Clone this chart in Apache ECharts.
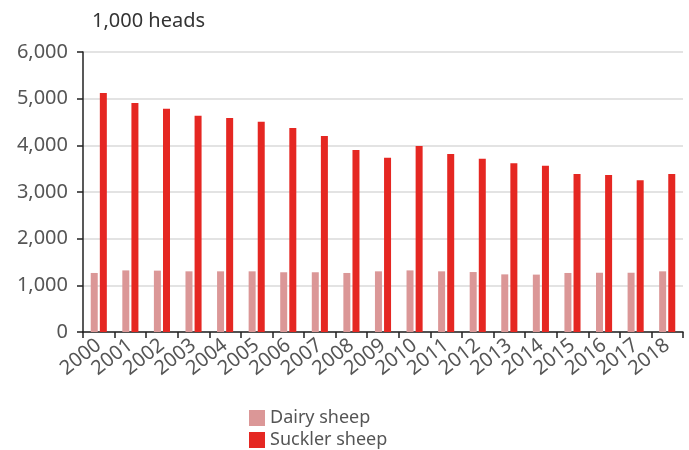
<!DOCTYPE html>
<html><head><meta charset="utf-8">
<script src="https://cdn.jsdelivr.net/npm/echarts@6/dist/echarts.min.js"></script>
<style>html,body{margin:0;padding:0;background:#fff}#c{width:689px;height:450px}</style>
</head><body><div id="c"></div>
<script>
var years = ['2000','2001','2002','2003','2004','2005','2006','2007','2008','2009','2010','2011','2012','2013','2014','2015','2016','2017','2018'];
var dairySheep = [1265,1320,1315,1300,1300,1300,1280,1280,1265,1300,1320,1300,1285,1235,1230,1265,1270,1270,1300];
var sucklerSheep = [5120,4905,4785,4635,4585,4505,4370,4200,3900,3735,3985,3815,3715,3615,3565,3385,3365,3250,3385];
var yTicks = [0,1000,2000,3000,4000,5000,6000];
var font = 'Noto Sans';
var legendText = {fontFamily:font,fontSize:18,color:'#555'};
var chart = echarts.init(document.getElementById('c'));
chart.setOption({
  animation:false,
  title:{text:'1,000 heads',left:87,top:6,textStyle:{fontFamily:font,fontSize:20,fontWeight:'normal',color:'#333'}},
  grid:{left:83,right:6,top:52,bottom:118,containLabel:false},
  legend:[
    {left:244,top:404,itemWidth:16,itemHeight:16,icon:'rect',itemGap:6,textStyle:legendText,data:['Dairy sheep']},
    {left:244,top:426,itemWidth:16,itemHeight:16,icon:'rect',itemGap:6,textStyle:legendText,data:['Suckler sheep']}
  ],
  xAxis:{type:'category',data:years,
    axisLine:{lineStyle:{color:'#222',width:1.5}},
    axisTick:{show:true,length:6,lineStyle:{color:'#222',width:1.5}},
    axisLabel:{interval:0,rotate:38,margin:11,fontFamily:font,fontSize:20,color:'#555'}},
  yAxis:{type:'value',min:yTicks[0],max:yTicks[yTicks.length-1],interval:1000,
    axisLine:{show:true,lineStyle:{color:'#222',width:1.5}},
    axisTick:{show:true,length:6,lineStyle:{color:'#222',width:1.5}},
    splitLine:{lineStyle:{color:'#dadada',width:1.5}},
    axisLabel:{fontFamily:font,fontSize:20,color:'#555',margin:15,
      formatter:function(v){return v.toLocaleString('en-US');}}},
  series:[
    {name:'Dairy sheep',type:'bar',data:dairySheep,barWidth:7,barGap:'30%',itemStyle:{color:'#db9797'}},
    {name:'Suckler sheep',type:'bar',data:sucklerSheep,barWidth:7,itemStyle:{color:'#e52722'}}
  ]
});
</script></body></html>
